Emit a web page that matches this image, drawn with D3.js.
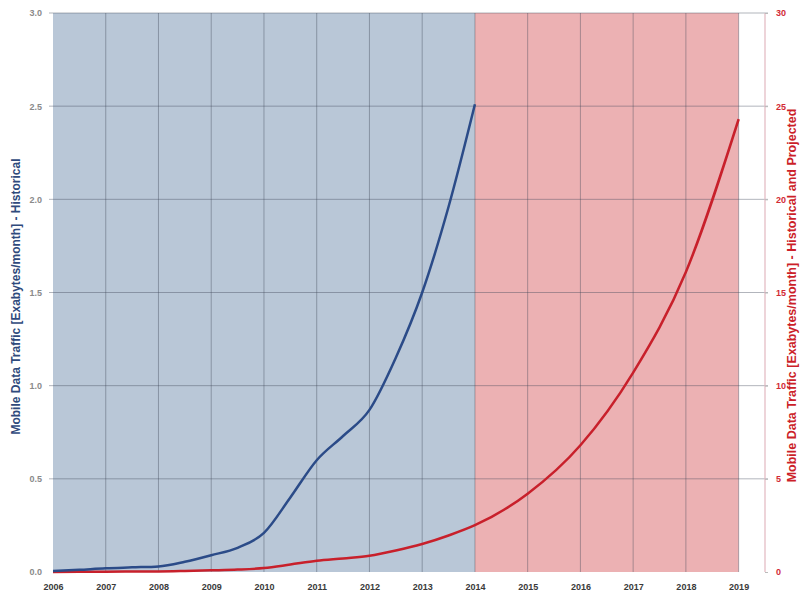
<!DOCTYPE html>
<html>
<head>
<meta charset="utf-8">
<script src="https://cdn.jsdelivr.net/npm/d3@7"></script>
<style>
  html, body { margin: 0; padding: 0; background: #fff; }
  svg { display: block; }
  text { font-family: "Liberation Sans", "DejaVu Sans", sans-serif; }
</style>
</head>
<body>
<svg id="chart" width="801" height="595"></svg>
<script>
// Mobile data traffic, exabytes per month
const histYears  = [2006, 2006.5, 2007, 2007.5, 2008, 2008.5, 2009, 2009.5, 2010, 2010.5, 2011, 2011.5, 2012, 2012.5, 2013, 2013.5, 2014];
const histValues = [0.005, 0.012, 0.02, 0.025, 0.03, 0.055, 0.09, 0.13, 0.21, 0.40, 0.60, 0.73, 0.87, 1.15, 1.50, 1.96, 2.51];
const projYears  = [2015, 2016, 2017, 2018, 2019];
const projValues = [4.2, 6.8, 10.7, 16.1, 24.3];

const xTickYears   = [2006, 2007, 2008, 2009, 2010, 2011, 2012, 2013, 2014, 2015, 2016, 2017, 2018, 2019];
const leftTicks    = [0, 0.5, 1.0, 1.5, 2.0, 2.5, 3.0];
const rightTicks   = [0, 5, 10, 15, 20, 25, 30];
const leftTitle    = "Mobile Data Traffic [Exabytes/month] - Historical";
const rightTitle   = "Mobile Data Traffic [Exabytes/month] - Historical and Projected";
const historicalSpan = [2006, 2014];
const projectedSpan  = [2014, 2019];

const svg = d3.select("#chart");
const m = { left: 53, right: 765, top: 13, bottom: 572 };

const x = d3.scaleLinear().domain([2006, 2019.5]).range([m.left, m.right]);
const yL = d3.scaleLinear().domain([0, 3]).range([m.bottom, m.top]);
const yR = d3.scaleLinear().domain([0, 30]).range([m.bottom, m.top]);

// shaded periods
svg.append("rect")
  .attr("x", x(historicalSpan[0])).attr("y", m.top)
  .attr("width", x(historicalSpan[1]) - x(historicalSpan[0]))
  .attr("height", m.bottom - m.top)
  .attr("fill", "#b9c7d7");
svg.append("rect")
  .attr("x", x(projectedSpan[0])).attr("y", m.top)
  .attr("width", x(projectedSpan[1]) - x(projectedSpan[0]))
  .attr("height", m.bottom - m.top)
  .attr("fill", "#ecb1b3");

// grid
const grid = svg.append("g");
grid.selectAll("line.v").data(xTickYears.slice(1)).join("line")
  .attr("x1", d => x(d)).attr("x2", d => x(d))
  .attr("y1", m.top).attr("y2", m.bottom)
  .attr("stroke", "#3f4658").attr("stroke-opacity", 0.4).attr("stroke-width", 1);
grid.selectAll("line.h").data(leftTicks.slice(1)).join("line")
  .attr("x1", m.left - 4).attr("x2", m.right + 3)
  .attr("y1", d => yL(d)).attr("y2", d => yL(d))
  .attr("stroke", "#3f4658").attr("stroke-opacity", 0.4).attr("stroke-width", 1);

// right axis line
svg.append("line")
  .attr("x1", m.right).attr("x2", m.right)
  .attr("y1", m.top).attr("y2", m.bottom)
  .attr("stroke", "#e2b8c0").attr("stroke-width", 1.2);

// axes
const xAxis = d3.axisBottom(x).tickValues(xTickYears).tickFormat(d3.format("d")).tickSize(0).tickPadding(12);
const gx = svg.append("g").attr("transform", `translate(0,${m.bottom})`).call(xAxis);
gx.select(".domain").remove();
gx.selectAll("text").attr("fill", "#3a3a3a").attr("font-size", 9).attr("font-weight", "bold");

const leftAxis = d3.axisLeft(yL).tickValues(leftTicks).tickFormat(d3.format(".1f")).tickSize(0).tickPadding(11);
const gl = svg.append("g").attr("transform", `translate(${m.left},0)`).call(leftAxis);
gl.select(".domain").remove();
gl.selectAll("text").attr("fill", "#8a8a8a").attr("font-size", 9).attr("font-weight", "bold");

const rightAxis = d3.axisRight(yR).tickValues(rightTicks).tickSize(3).tickPadding(8);
const gr = svg.append("g").attr("transform", `translate(${m.right},0)`).call(rightAxis);
gr.select(".domain").remove();
gr.selectAll("line").attr("stroke", "#bbbbbb");
gr.selectAll("text").attr("fill", "#d22a35").attr("font-size", 9).attr("font-weight", "bold");

// axis titles
svg.append("text")
  .attr("transform", `translate(17,${(m.top + m.bottom) / 2 + 4}) rotate(-90)`)
  .attr("text-anchor", "middle").attr("dominant-baseline", "middle")
  .attr("fill", "#2f4a7c").attr("font-size", 12).attr("font-weight", "bold")
  .text(leftTitle);
svg.append("text")
  .attr("transform", `translate(793,${(m.top + m.bottom) / 2 + 3}) rotate(-90)`)
  .attr("text-anchor", "middle").attr("dominant-baseline", "middle")
  .attr("fill", "#cc1f2a").attr("font-size", 12.5).attr("font-weight", "bold")
  .text(rightTitle);

// series
const histPts = histYears.map((yr, i) => [yr, histValues[i]]);
const allPts = histPts.concat(projYears.map((yr, i) => [yr, projValues[i]]));

const lineL = d3.line().x(d => x(d[0])).y(d => yL(d[1])).curve(d3.curveMonotoneX);
const lineR = d3.line().x(d => x(d[0])).y(d => yR(d[1])).curve(d3.curveMonotoneX);

svg.append("path").datum(allPts).attr("d", lineR)
  .attr("fill", "none").attr("stroke", "#c8202b").attr("stroke-width", 2.5);
svg.append("path").datum(histPts).attr("d", lineL)
  .attr("fill", "none").attr("stroke", "#2b4b88").attr("stroke-width", 2.5);
</script>
</body>
</html>
